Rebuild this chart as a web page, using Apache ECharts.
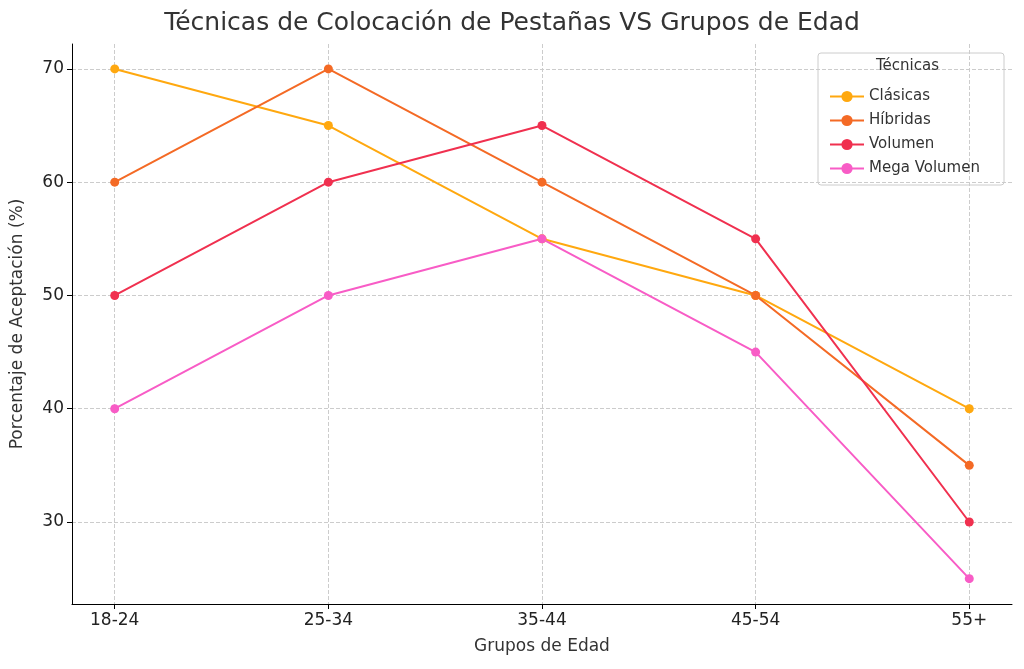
<!DOCTYPE html><html><head><meta charset="utf-8">
<script src="https://cdn.jsdelivr.net/npm/echarts@6/dist/echarts.min.js"></script>
<style>html,body{margin:0;padding:0;background:#fff}#c{width:1024px;height:669px}</style></head><body><div id="c"></div>
<script>
const categories=['18-24','25-34','35-44','45-54','55+'];
const clasicas=[70,65,55,50,40];
const hibridas=[60,70,60,50,35];
const volumen=[50,60,65,55,30];
const mega=[40,50,55,45,25];
const yTicks=[30,40,50,60,70];
const xTicks=[0,1,2,3,4];
const names=['Clásicas','Híbridas','Volumen','Mega Volumen'];
const colors=['#FFA80F','#F46A25','#F0304F','#F85CC6'];
const f='DejaVu Sans';
const mk=(n,d,c)=>({name:n,type:'line',data:d.map((v,i)=>[i,v]),color:c,symbol:'circle',symbolSize:9,lineStyle:{width:2},itemStyle:{color:c}});
const ch=echarts.init(document.getElementById('c'));
ch.setOption({animation:false,
title:{text:'Técnicas de Colocación de Pestañas VS Grupos de Edad',left:'center',top:6,textStyle:{fontFamily:f,fontSize:25,fontWeight:'normal',color:'#333'}},
grid:{left:72,right:12,top:44,bottom:65},
xAxis:{type:'value',min:-0.2,max:4.2,name:'Grupos de Edad',nameLocation:'middle',nameGap:34,nameTextStyle:{fontFamily:f,fontSize:17,color:'#333'},
axisLine:{onZero:false,lineStyle:{color:'#000'}},axisTick:{show:true,length:5,customValues:xTicks,lineStyle:{color:'#000'}},
axisLabel:{fontFamily:f,fontSize:17,color:'#222',customValues:xTicks,formatter:v=>categories[Math.round(v)]||''},
splitLine:{show:true,customValues:xTicks,lineStyle:{type:'dashed',color:'#ccc'}}},
yAxis:{type:'value',min:22.76,max:72.2,name:'Porcentaje de Aceptación (%)',nameLocation:'middle',nameGap:46,nameTextStyle:{fontFamily:f,fontSize:17,color:'#333'},
axisLine:{show:true,onZero:false,lineStyle:{color:'#000'}},axisTick:{show:true,length:5,customValues:yTicks,lineStyle:{color:'#000'}},
axisLabel:{fontFamily:f,fontSize:17,color:'#222',customValues:yTicks},
splitLine:{show:true,customValues:yTicks,lineStyle:{type:'dashed',color:'#ccc'}}},
graphic:[{type:'rect',shape:{x:818,y:53,width:186,height:132,r:3},style:{fill:'#fff',stroke:'#ccc',lineWidth:1},z:0},
{type:'text',left:876,top:59,style:{text:'Técnicas',font:'15px DejaVu Sans',fill:'#333'},z:1}],
legend:{orient:'vertical',left:824,top:84,itemGap:9,itemWidth:34,itemHeight:14,data:names,textStyle:{fontFamily:f,fontSize:15,color:'#333'},z:5},
series:[mk(names[0],clasicas,colors[0]),mk(names[1],hibridas,colors[1]),mk(names[2],volumen,colors[2]),mk(names[3],mega,colors[3])]
});
</script></body></html>
